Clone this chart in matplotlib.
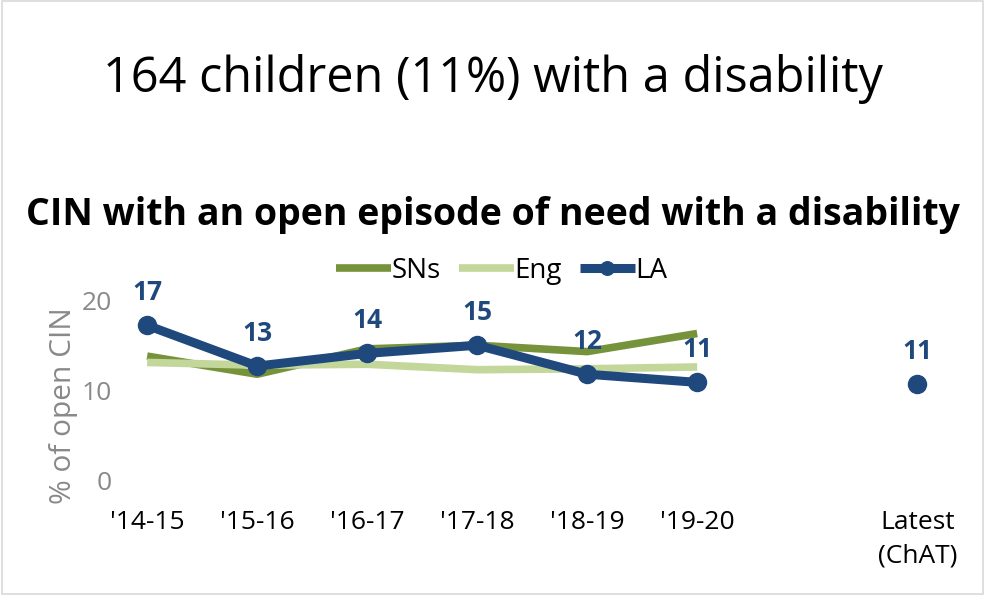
import numpy as np
import matplotlib.pyplot as plt

plt.rcParams['font.family'] = ['Open Sans', 'DejaVu Sans']

# categories (blank slot between '19-20 and Latest)
categories = ["'14-15", "'15-16", "'16-17", "'17-18", "'18-19", "'19-20", "", "Latest\n(ChAT)"]
sns_vals = [13.8, 11.8, 14.6, 15.0, 14.3, 16.3]
eng_vals = [13.1, 12.8, 12.9, 12.3, 12.4, 12.6]
la_vals = [17.2, 12.7, 14.1, 15.0, 11.8, 10.9]
la_labels = ['17', '13', '14', '15', '12', '11']
latest_val = 10.7
latest_label = '11'

c_sns = '#76933C'
c_eng = '#C4D79B'
c_la = '#1F497D'

fig = plt.figure(figsize=(9.85, 5.95), dpi=100)
fig.patch.set_facecolor('white')
fig.patches.append(plt.Rectangle((0.002, 0.002), 0.996, 0.996, transform=fig.transFigure,
                                 fill=False, edgecolor='#d9d9d9', lw=1.2))

ax = fig.add_axes([0.122, 0.1916, 0.865, 0.327])

x = np.arange(len(sns_vals))
ax.plot(x, sns_vals, color=c_sns, lw=5.5, solid_capstyle='butt', label='SNs')
ax.plot(x, eng_vals, color=c_eng, lw=5.5, solid_capstyle='butt', label='Eng')
ax.plot(x, la_vals, color=c_la, lw=6.5, marker='o', ms=13, solid_capstyle='butt', label='LA')
ax.plot([7], [latest_val], color=c_la, lw=0, marker='o', ms=13)

for xi, v, lab in zip(x, la_vals, la_labels):
    ax.annotate(lab, (xi, v), xytext=(0, 14), textcoords='offset points', ha='center', va='bottom',
                fontsize=19, fontweight='bold', color=c_la)
ax.annotate(latest_label, (7, latest_val), xytext=(0, 14), textcoords='offset points', ha='center',
            va='bottom', fontsize=19, fontweight='bold', color=c_la)

ax.set_xlim(-0.245, 7.5)
ax.set_ylim(0, 21.5)
ax.set_yticks([0, 10, 20])
ax.set_xticks(range(len(categories)))
ax.set_xticklabels(categories, linespacing=1.45)
ax.tick_params(axis='x', length=0, labelsize=19, pad=21, colors='black')
ax.tick_params(axis='y', length=0, labelsize=19, labelcolor='#898989', pad=6)
for s in ax.spines.values():
    s.set_visible(False)
ax.set_ylabel('% of open CIN', fontsize=21.5, color='#898989')
ax.yaxis.set_label_coords(-0.05, 0.385)

h, l = ax.get_legend_handles_labels()
fig.legend(h, l, loc='center', bbox_to_anchor=(0.509, 0.545), ncol=3, frameon=False, fontsize=20,
           handlelength=2.0, handletextpad=0.0, columnspacing=0.65, borderaxespad=0.0,
           markerscale=0.75)

fig.text(0.5, 0.868, '164 children (11%) with a disability', ha='center', va='center', fontsize=35)
fig.text(0.5, 0.639, 'CIN with an open episode of need with a disability', ha='center', va='center',
         fontsize=27, fontweight='bold')

fig.savefig('out.png', dpi=100)
